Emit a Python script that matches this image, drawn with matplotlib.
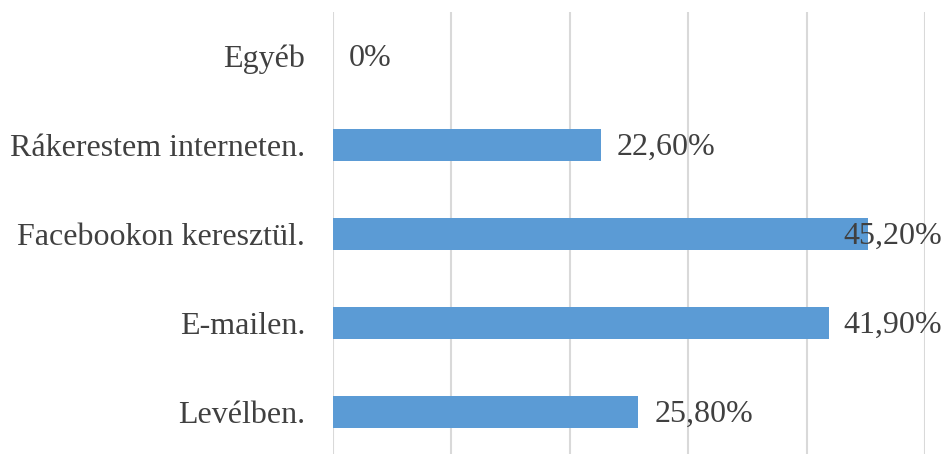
import matplotlib
matplotlib.use("Agg")
import matplotlib.pyplot as plt

categories = ["Levélben.", "E-mailen.", "Facebookon keresztül.", "Rákerestem interneten.", "Egyéb"]
values = [25.8, 41.9, 45.2, 22.6, 0.0]
labels = ["25,80%", "41,90%", "45,20%", "22,60%", "0%"]

plt.rcParams['font.family'] = ['Liberation Serif', 'DejaVu Serif']

W, H = 946, 454
fig = plt.figure(figsize=(W / 100, H / 100), dpi=100)
left, right = 333 / W, 925 / W
top_px, bot_px = 11.5, 454
ax = fig.add_axes([left, 1 - bot_px / H, right - left, (bot_px - top_px) / H])

pos = list(range(len(categories)))
ax.barh(pos, values, height=0.36, color="#5B9BD5", zorder=2)
ax.set_xlim(0, 50)
ax.set_ylim(-0.472, 4.5)
ax.set_xticks([0, 10, 20, 30, 40, 50])
ax.set_xticklabels([])
ax.tick_params(axis='x', length=0)
ax.tick_params(axis='y', length=0, pad=20, labelsize=23, labelcolor="#404040")
ax.set_yticks(pos)
ax.set_yticklabels(categories)
ax.grid(axis='x', color="#D9D9D9", linewidth=1.5, zorder=0)
for s in ax.spines.values():
    s.set_visible(False)

texts = []
for p, v, lab in zip(pos, values, labels):
    t = ax.annotate(lab, xy=(v, p), xytext=(11.5, -1.5), textcoords='offset points',
                    ha='left', va='center', fontsize=23, color="#404040", zorder=3)
    texts.append(t)

fig.canvas.draw()
r = fig.canvas.get_renderer()
for t in texts:
    bb = t.get_window_extent(renderer=r)
    if bb.x1 > W - 4:
        shift = (bb.x1 - (W - 4)) * 72 / 100
        t.xyann = (11.5 - shift, -1.5)

fig.savefig("out.png", dpi=100)
